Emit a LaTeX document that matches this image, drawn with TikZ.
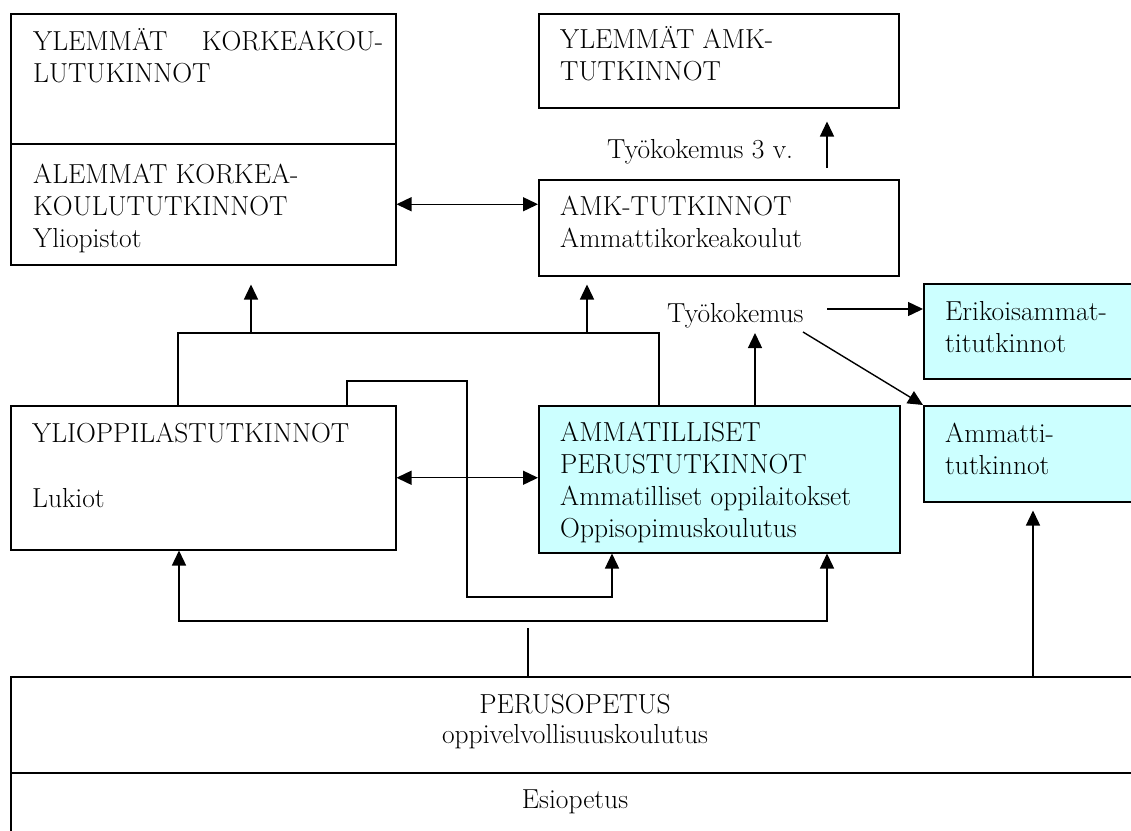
\documentclass[tikz,border=0pt]{standalone}
\usetikzlibrary{arrows.meta}
\definecolor{paleCyan}{HTML}{CCFFFF}
\begin{document}
\begin{tikzpicture}[x=1pt,y=-1pt,
  box/.style={draw, line width=1.5pt, rectangle, inner sep=0pt, anchor=north west},
  cyanbox/.style={box, fill=paleCyan},
  % multi-line texts are placed by the baseline of their last line
  txt/.style={inner sep=0pt, anchor=base west, align=left, font=\fontsize{27.5}{32}\selectfont},
  ctxt/.style={inner sep=0pt, anchor=base, align=center, font=\fontsize{27.5}{30}\selectfont},
  conn/.style={line width=1.4pt},
  arr/.style={conn, -{Triangle[length=15pt,width=14pt]}},
  dbl/.style={conn, {Triangle[length=15pt,width=14pt]}-{Triangle[length=15pt,width=14pt]}}]
\useasboundingbox (0,0) rectangle (1131,830);
\clip (0,0) rectangle (1131,830);

% universities
\node[box, minimum width=385pt, minimum height=130pt] (yk) at (10,13) {};
\node[box, minimum width=385pt, minimum height=121pt] (ak) at (10,143) {};
\node[txt] (ykt) at (33,82) {\makebox[350pt][s]{YLEMMÄT KORKEAKOU-}\\LUTUKINNOT};
\node[txt] (akt) at (33,247) {ALEMMAT KORKEA-\\KOULUTUTKINNOT\\Yliopistot};

% universities of applied sciences
\node[box, minimum width=360pt, minimum height=94pt] (ylamk) at (538,13) {};
\node[txt] (ylamkt) at (560,80) {YLEMMÄT AMK-\\TUTKINNOT};
\node[box, minimum width=360pt, minimum height=96pt] (amk) at (538,179) {};
\node[txt] (amkt) at (560,247) {AMK-TUTKINNOT\\Ammattikorkeakoulut};
\node[txt] (tyo3) at (607,158) {Työkokemus 3 v.};

% secondary level
\node[box, minimum width=385pt, minimum height=144pt] (yo) at (10,405) {};
\node[txt] (yot) at (32,507) {YLIOPPILASTUTKINNOT\\[33pt]Lukiot};
\node[cyanbox, minimum width=361pt, minimum height=147pt] (ammat) at (538,405) {};
\node[txt] (ammatt) at (560,537) {AMMATILLISET\\PERUSTUTKINNOT\\Ammatilliset oppilaitokset\\Oppisopimuskoulutus};

% competence-based qualifications
\node[txt] (tyo) at (667,322) {Työkokemus};
\node[cyanbox, minimum width=240pt, minimum height=95pt] (erik) at (923,283) {};
\node[txt] (erikt) at (945,352) {Erikoisammat-\\titutkinnot};
\node[cyanbox, minimum width=240pt, minimum height=96pt] (amt) at (923,405) {};
\node[txt] (amtt) at (945,474) {Ammatti-\\tutkinnot};

% basic education
\node[box, minimum width=1130pt, minimum height=96pt] (perus) at (10,676) {};
\node[ctxt] (perust) at (575,743) {PERUSOPETUS\\oppivelvollisuuskoulutus};
\node[box, minimum width=1130pt, minimum height=120pt] (esi) at (10,772) {};
\node[ctxt] (esit) at (575,808) {Esiopetus};

% junction points
\coordinate (jl) at (178,333);
\coordinate (jr) at (659,333);
\coordinate (upA) at (251,333);
\coordinate (upC) at (587,333);
\coordinate (t3) at (827,168);
\coordinate (l1) at (347,381);
\coordinate (l2) at (467,597);
\coordinate (l3) at (612,597);
\coordinate (bl) at (179,621);
\coordinate (br) at (827,621);
\coordinate (bm) at (528,628);
\coordinate (rx) at (1033,676);
\coordinate (tk) at (755,333);
\coordinate (te) at (827,309);
\coordinate (td) at (803,332);

% connectors
\draw[dbl] (ak.east) -- (ak.east -| amk.west);
\draw[arr, shorten >=13pt] (t3) -- (ylamk.south -| t3);
\draw[conn] (yo.north -| jl) -- (jl) -- (jr) -- (ammat.north -| jr);
\draw[arr, shorten >=19pt] (upA) -- (ak.south -| upA);
\draw[arr, shorten >=8pt] (upC) -- (amk.south -| upC);
\draw[dbl] (yo.east) -- (yo.east -| ammat.west);
\draw[arr] (yo.north -| l1) -- (l1) -| (l2) -- (l3) -- (ammat.south -| l3);
\draw[dbl] (yo.south -| bl) -- (bl) -- (br) -- (ammat.south -| br);
\draw[conn] (perus.north -| bm) -- (bm);
\draw[arr, shorten >=8pt] (rx) -- (amt.south -| rx);
\draw[arr] (ammat.north -| tk) -- (tk);
\draw[arr] (te) -- (te -| erik.west);
\draw[arr] (td) -- (amt.north west);
\end{tikzpicture}
\end{document}
